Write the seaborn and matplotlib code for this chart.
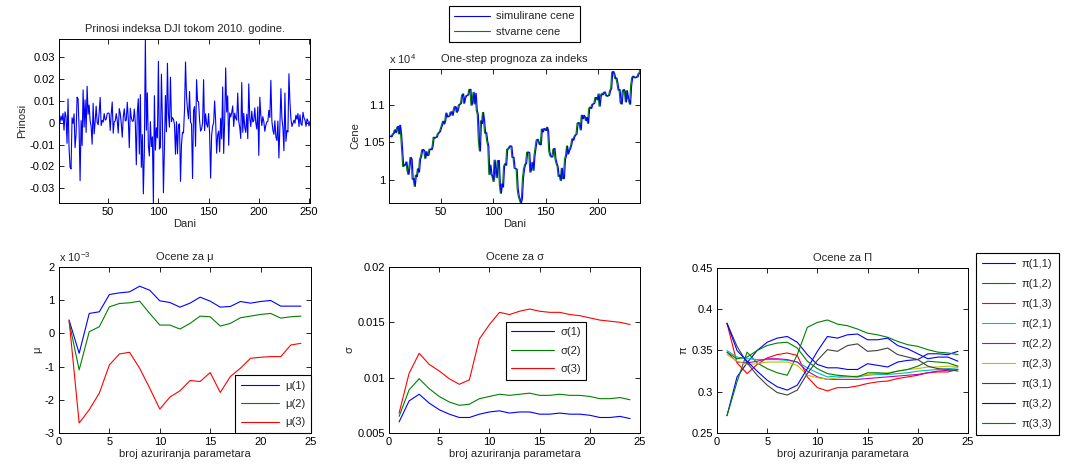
import numpy as np
import matplotlib
matplotlib.use('Agg')
import matplotlib.pyplot as plt
import seaborn as sns
from matplotlib.ticker import FuncFormatter


# DJI daily log returns, 2010
returns = [
    -0.0011, 0.0002, 0.0031, 0.0011, 0.0043, -0.0034, 0.0050, 0.0028, -0.0094, 0.0109,
    -0.0114, -0.0203, -0.0211, 0.0023, -0.0003, 0.0041, -0.0114, -0.0053, 0.0117, 0.0109,
    -0.0026, -0.0265, 0.0010, -0.0104, 0.0150, -0.0020, 0.0105, -0.0044, 0.0167, 0.0039,
    0.0081, 0.0009, -0.0018, -0.0098, 0.0089, -0.0051, 0.0004, 0.0076, 0.0002, -0.0009,
    0.0046, 0.0116, -0.0013, 0.0011, 0.0003, 0.0042, 0.0012, 0.0016, 0.0041, 0.0045,
    0.0042, -0.0035, 0.0041, 0.0095, -0.0048, 0.0005, 0.0008, 0.0042, 0.0011, -0.0047,
    0.0065, 0.0043, -0.0003, -0.0066, 0.0027, 0.0064, 0.0008, 0.0012, 0.0094, 0.0019,
    -0.0114, 0.0066, 0.0023, 0.0007, 0.0008, 0.0063, 0.0001, -0.0192, 0.0048, 0.0110,
    -0.0143, 0.0129, -0.0204, -0.0054, -0.0325, -0.0134, 0.0383, -0.0034, 0.0137, -0.0105,
    -0.0152, 0.0005, -0.0109, -0.0064, -0.0367, 0.0124, -0.0125, -0.0023, -0.0069, 0.0281,
    -0.0120, -0.0112, 0.0222, 0.0006, -0.0320, -0.0117, 0.0125, -0.0041, 0.0272, 0.0038,
    -0.0020, 0.0208, 0.0005, 0.0024, 0.0016, -0.0008, -0.0144, 0.0005, -0.0142, -0.0009,
    -0.0005, -0.0268, -0.0098, -0.0043, -0.0047, 0.0059, 0.0278, 0.0120, 0.0058, 0.0018,
    0.0143, 0.0004, -0.0007, -0.0255, 0.0056, 0.0074, -0.0108, 0.0197, 0.0099, 0.0096,
    0.0012, -0.0038, -0.0029, -0.0001, 0.0197, -0.0036, 0.0041, -0.0005, -0.0020, 0.0042,
    -0.0051, -0.0253, -0.0057, -0.0016, -0.0001, 0.0100, 0.0009, -0.0139, -0.0056, -0.0038,
    -0.0133, 0.0020, -0.0074, 0.0164, -0.0140, 0.0005, 0.0251, 0.0049, 0.0123, -0.0103,
    0.0045, 0.0027, 0.0046, 0.0077, -0.0017, 0.0044, 0.0021, 0.0012, 0.0136, 0.0007,
    -0.0020, -0.0072, 0.0184, -0.0044, 0.0043, -0.0021, -0.0044, 0.0039, -0.0073, 0.0178,
    0.0021, -0.0017, 0.0053, 0.0004, 0.0009, 0.0068, -0.0001, -0.0029, 0.0073, -0.0149,
    0.0117, 0.0035, -0.0013, 0.0028, 0.0005, -0.0039, -0.0011, 0.0004, 0.0006, 0.0057,
    0.0024, 0.0194, 0.0008, -0.0033, -0.0053, 0.0009, -0.0065, -0.0081, 0.0008, -0.0161,
    -0.0014, 0.0156, 0.0020, -0.0022, -0.0128, 0.0136, -0.0085, -0.0036, -0.0042, 0.0224,
    0.0094, 0.0017, -0.0017, -0.0003, 0.0012, -0.0002, 0.0035, 0.0016, 0.0042, -0.0017,
    0.0036, -0.0006, -0.0012, 0.0048, 0.0023, 0.0012, -0.0016, 0.0018, 0.0008, -0.0014,
    0.0007,
]

# actual index closes (stvarne cene)
actual_prices = [
    10584, 10572, 10574, 10607, 10618, 10664, 10627, 10681, 10711, 10610,
    10725, 10603, 10390, 10173, 10197, 10194, 10236, 10120, 10067, 10186,
    10297, 10271, 10002, 10012, 9908, 10059, 10038, 10144, 10099, 10269,
    10309, 10393, 10402, 10383, 10282, 10374, 10321, 10325, 10404, 10406,
    10397, 10444, 10566, 10553, 10564, 10568, 10612, 10625, 10642, 10686,
    10734, 10779, 10742, 10786, 10889, 10836, 10841, 10850, 10896, 10907,
    10857, 10927, 10974, 10970, 10898, 10927, 10997, 11006, 11019, 11123,
    11145, 11019, 11092, 11117, 11125, 11134, 11204, 11205, 10992, 11045,
    11167, 11009, 11152, 10927, 10868, 10520, 10380, 10785, 10748, 10897,
    10783, 10620, 10626, 10511, 10444, 10068, 10193, 10067, 10044, 9974,
    10259, 10137, 10024, 10250, 10255, 9932, 9816, 9940, 9899, 10173,
    10211, 10191, 10405, 10409, 10434, 10451, 10442, 10294, 10298, 10153,
    10144, 10139, 9870, 9774, 9733, 9686, 9744, 10018, 10139, 10198,
    10216, 10363, 10367, 10359, 10098, 10154, 10230, 10121, 10322, 10425,
    10525, 10538, 10498, 10467, 10466, 10674, 10636, 10680, 10675, 10654,
    10699, 10644, 10379, 10320, 10303, 10302, 10406, 10416, 10271, 10214,
    10174, 10040, 10060, 9986, 10151, 10010, 10015, 10269, 10320, 10448,
    10341, 10387, 10415, 10463, 10544, 10526, 10573, 10595, 10608, 10754,
    10761, 10739, 10662, 10860, 10812, 10858, 10835, 10788, 10830, 10751,
    10945, 10968, 10949, 11006, 11010, 11020, 11096, 11095, 11063, 11144,
    10979, 11108, 11147, 11133, 11164, 11169, 11126, 11114, 11118, 11125,
    11189, 11215, 11435, 11444, 11407, 11347, 11357, 11283, 11193, 11202,
    11024, 11008, 11181, 11204, 11179, 11036, 11187, 11092, 11052, 11006,
    11256, 11362, 11382, 11362, 11359, 11372, 11370, 11410, 11429, 11477,
]

# one-step forecasts (simulirane cene)
simulated_prices = [
    10590, 10584, 10572, 10574, 10607, 10618, 10664, 10627, 10681, 10711,
    10610, 10725, 10603, 10390, 10173, 10197, 10194, 10236, 10120, 10067,
    10186, 10297, 10271, 10002, 10012, 9908, 10059, 10038, 10144, 10099,
    10269, 10309, 10393, 10402, 10383, 10282, 10374, 10321, 10325, 10404,
    10406, 10397, 10444, 10566, 10553, 10564, 10568, 10612, 10625, 10642,
    10686, 10734, 10779, 10742, 10786, 10889, 10836, 10841, 10850, 10896,
    10907, 10857, 10927, 10974, 10970, 10898, 10927, 10997, 11006, 11019,
    11123, 11145, 11019, 11092, 11117, 11125, 11134, 11204, 11205, 10992,
    11045, 11167, 11009, 11152, 10927, 10868, 10520, 10380, 10785, 10748,
    10897, 10783, 10620, 10626, 10511, 10444, 10068, 10193, 10067, 10044,
    9974, 10259, 10137, 10024, 10250, 10255, 9932, 9816, 9940, 9899,
    10173, 10211, 10191, 10405, 10409, 10434, 10451, 10442, 10294, 10298,
    10153, 10144, 10139, 9870, 9774, 9733, 9686, 9744, 10018, 10139,
    10198, 10216, 10363, 10367, 10359, 10098, 10154, 10230, 10121, 10322,
    10425, 10525, 10538, 10498, 10467, 10466, 10674, 10636, 10680, 10675,
    10654, 10699, 10644, 10379, 10320, 10303, 10302, 10406, 10416, 10271,
    10214, 10174, 10040, 10060, 9986, 10151, 10010, 10015, 10269, 10320,
    10448, 10341, 10387, 10415, 10463, 10544, 10526, 10573, 10595, 10608,
    10754, 10761, 10739, 10662, 10860, 10812, 10858, 10835, 10788, 10830,
    10751, 10945, 10968, 10949, 11006, 11010, 11020, 11096, 11095, 11063,
    11144, 10979, 11108, 11147, 11133, 11164, 11169, 11126, 11114, 11118,
    11125, 11189, 11215, 11435, 11444, 11407, 11347, 11357, 11283, 11193,
    11202, 11024, 11008, 11181, 11204, 11179, 11036, 11187, 11092, 11052,
    11006, 11256, 11362, 11382, 11362, 11359, 11372, 11370, 11410, 11429,
]

# parameter updates 1..24
updates = list(range(1, 25))

# mu estimates, in units of 1e-3
mu_1 = [0.40, -0.60, 0.60, 0.65, 1.17, 1.22, 1.25, 1.42, 1.30, 0.98, 0.93, 0.79,
        0.91, 1.09, 0.97, 0.79, 0.81, 0.96, 0.91, 0.96, 0.99, 0.82, 0.82, 0.82]
mu_2 = [0.35, -1.10, 0.05, 0.20, 0.80, 0.90, 0.92, 0.97, 0.60, 0.25, 0.25, 0.13,
        0.30, 0.52, 0.50, 0.22, 0.30, 0.47, 0.52, 0.57, 0.60, 0.46, 0.50, 0.52]
mu_3 = [0.40, -2.70, -2.30, -1.80, -0.95, -0.62, -0.57, -1.05, -1.65, -2.28, -1.92, -1.73,
        -1.42, -1.45, -1.18, -1.78, -1.30, -1.05, -0.75, -0.72, -0.70, -0.70, -0.35, -0.30]

# sigma estimates
sigma_1 = [0.0060, 0.0079, 0.0085, 0.0077, 0.0071, 0.0067, 0.0064, 0.0064, 0.0067, 0.0069, 0.0070, 0.0068,
           0.0069, 0.0069, 0.0067, 0.0067, 0.0068, 0.0067, 0.0067, 0.0066, 0.0064, 0.0064, 0.0065, 0.0063]
sigma_2 = [0.0065, 0.0089, 0.0099, 0.0090, 0.0083, 0.0078, 0.0075, 0.0076, 0.0081, 0.0083, 0.0085, 0.0084,
           0.0085, 0.0086, 0.0084, 0.0084, 0.0085, 0.0084, 0.0084, 0.0083, 0.0081, 0.0081, 0.0082, 0.0080]
sigma_3 = [0.0068, 0.0104, 0.0122, 0.0112, 0.0106, 0.0099, 0.0094, 0.0098, 0.0135, 0.0148, 0.0159, 0.0157,
           0.0160, 0.0162, 0.0160, 0.0159, 0.0159, 0.0157, 0.0156, 0.0154, 0.0152, 0.0151, 0.0150, 0.0148]

# transition matrix estimates
pi_11 = [0.271, 0.318, 0.335, 0.350, 0.360, 0.365, 0.367, 0.360, 0.345, 0.333, 0.329, 0.329,
         0.327, 0.327, 0.334, 0.332, 0.330, 0.336, 0.338, 0.339, 0.346, 0.346, 0.345, 0.349]
pi_12 = [0.271, 0.312, 0.348, 0.335, 0.328, 0.323, 0.320, 0.345, 0.378, 0.384, 0.387, 0.382,
         0.380, 0.376, 0.371, 0.369, 0.366, 0.361, 0.357, 0.355, 0.351, 0.348, 0.347, 0.345]
pi_13 = [0.383, 0.335, 0.322, 0.333, 0.341, 0.345, 0.347, 0.344, 0.318, 0.305, 0.301, 0.305,
         0.305, 0.307, 0.310, 0.312, 0.313, 0.316, 0.318, 0.320, 0.323, 0.324, 0.324, 0.327]
pi_21 = [0.350, 0.342, 0.340, 0.339, 0.339, 0.339, 0.338, 0.336, 0.329, 0.323, 0.318, 0.319,
         0.318, 0.318, 0.320, 0.321, 0.321, 0.322, 0.323, 0.325, 0.326, 0.327, 0.328, 0.329]
pi_22 = [0.348, 0.336, 0.335, 0.337, 0.340, 0.340, 0.339, 0.336, 0.325, 0.318, 0.315, 0.315,
         0.315, 0.315, 0.316, 0.317, 0.318, 0.319, 0.320, 0.321, 0.323, 0.325, 0.326, 0.327]
pi_23 = [0.345, 0.337, 0.333, 0.334, 0.336, 0.336, 0.336, 0.332, 0.320, 0.317, 0.315, 0.317,
         0.318, 0.319, 0.321, 0.322, 0.323, 0.325, 0.327, 0.328, 0.330, 0.330, 0.331, 0.331]
pi_31 = [0.383, 0.355, 0.335, 0.320, 0.308, 0.299, 0.296, 0.302, 0.322, 0.338, 0.351, 0.349,
         0.356, 0.358, 0.349, 0.350, 0.353, 0.345, 0.342, 0.339, 0.331, 0.328, 0.327, 0.325]
pi_32 = [0.383, 0.350, 0.337, 0.325, 0.314, 0.306, 0.302, 0.308, 0.328, 0.349, 0.367, 0.365,
         0.369, 0.370, 0.363, 0.363, 0.365, 0.356, 0.352, 0.346, 0.340, 0.342, 0.342, 0.337]
pi_33 = [0.348, 0.340, 0.342, 0.350, 0.356, 0.359, 0.360, 0.353, 0.337, 0.328, 0.322, 0.320,
         0.319, 0.318, 0.323, 0.323, 0.322, 0.325, 0.327, 0.331, 0.337, 0.336, 0.335, 0.331]

pi_labels = ['\u03c0(1,1)', '\u03c0(1,2)', '\u03c0(1,3)', '\u03c0(2,1)', '\u03c0(2,2)',
             '\u03c0(2,3)', '\u03c0(3,1)', '\u03c0(3,2)', '\u03c0(3,3)']

# MATLAB default line colours
ML_COLORS = [(0, 0, 1), (0, 0.5, 0), (1, 0, 0), (0, 0.75, 0.75),
             (0.75, 0, 0.75), (0.75, 0.75, 0), (0.25, 0.25, 0.25)]

sns.set_style('white')
plt.rcParams['font.family'] = ['Liberation Sans', 'DejaVu Sans']
plt.rcParams['font.size'] = 8
plt.rcParams['mathtext.fontset'] = 'custom'
plt.rcParams['mathtext.rm'] = 'Liberation Sans'
plt.rcParams['mathtext.it'] = 'Liberation Sans'

LW = 0.8
gfmt = FuncFormatter(lambda v, pos: '%g' % round(v, 6))


def matlab_axes(ax):
    """Box, inward ticks on all sides, like a MATLAB figure."""
    ax.tick_params(direction='in', top=True, right=True, bottom=True, left=True,
                   length=3.5, width=0.6, labelsize=8, pad=3, colors='black')
    for s in ax.spines.values():
        s.set_visible(True)
        s.set_edgecolor('black')
        s.set_linewidth(0.7)
    ax.grid(False)


def boxed_legend(ax, handlelength=3.2, **kw):
    leg = ax.legend(fontsize=8, frameon=True, fancybox=False, edgecolor='black',
                    framealpha=1, handlelength=handlelength, handletextpad=0.6, **kw)
    leg.get_frame().set_linewidth(0.8)
    return leg


fig = plt.figure(figsize=(10.65, 4.73), dpi=100)
fig.patch.set_facecolor('white')

ax1 = fig.add_axes([0.0554, 0.5708, 0.2357, 0.3467])
ax2 = fig.add_axes([0.3653, 0.5708, 0.2357, 0.2833])
ax3 = fig.add_axes([0.0554, 0.0846, 0.2366, 0.3510])
ax4 = fig.add_axes([0.3653, 0.0846, 0.2357, 0.3510])
ax5 = fig.add_axes([0.6732, 0.0846, 0.2357, 0.3488])

# returns
ret_days = np.arange(1, len(returns) + 1)
sns.lineplot(x=ret_days, y=returns, ax=ax1, color=(0, 0, 1), linewidth=LW, estimator=None, sort=False)
ax1.set_xlim(1, len(returns))
ax1.set_ylim(min(returns), max(returns))
ax1.set_xticks([50, 100, 150, 200, 250])
ax1.set_yticks([-0.03, -0.02, -0.01, 0, 0.01, 0.02, 0.03])
ax1.yaxis.set_major_formatter(gfmt)
ax1.set_title('Prinosi indeksa DJI tokom 2010. godine.', fontsize=8, pad=5)
ax1.set_xlabel('Dani', labelpad=1)
ax1.set_ylabel('Prinosi', labelpad=2)
matlab_axes(ax1)

# one-step forecast
price_days = np.arange(1, len(actual_prices) + 1)
sns.lineplot(x=price_days, y=actual_prices, ax=ax2, color=(0, 0.5, 0), linewidth=LW,
             estimator=None, sort=False, label='stvarne cene')
sns.lineplot(x=price_days, y=simulated_prices, ax=ax2, color=(0, 0, 1), linewidth=LW,
             estimator=None, sort=False, label='simulirane cene')
ax2.set_xlim(1, len(actual_prices))
ax2.set_ylim(min(actual_prices + simulated_prices), max(actual_prices + simulated_prices))
ax2.set_xticks([50, 100, 150, 200])
ax2.set_yticks([10000, 10500, 11000])
ax2.yaxis.set_major_formatter(FuncFormatter(lambda v, pos: '%g' % (v / 1e4)))
ax2.text(0.0, 1.02, 'x 10$^{4}$', transform=ax2.transAxes, ha='left', va='bottom', fontsize=8)
ax2.set_title('One-step prognoza za indeks', fontsize=8, pad=5)
ax2.set_xlabel('Dani', labelpad=1)
ax2.set_ylabel('Cene', labelpad=2)
h, l = ax2.get_legend_handles_labels()
boxed_legend(ax2, handles=[h[1], h[0]], labels=[l[1], l[0]], loc='lower center',
             bbox_to_anchor=(0.5, 1.16), labelspacing=0.5, borderpad=0.45)
matlab_axes(ax2)

# mu
for i, (series, name) in enumerate([(mu_1, '\u03bc(1)'), (mu_2, '\u03bc(2)'), (mu_3, '\u03bc(3)')]):
    sns.lineplot(x=updates, y=series, ax=ax3, color=ML_COLORS[i], linewidth=LW,
                 estimator=None, sort=False, label=name)
ax3.set_xlim(0, 25)
ax3.set_ylim(-3, 2)
ax3.set_xticks([0, 5, 10, 15, 20, 25])
ax3.set_yticks([-3, -2, -1, 0, 1, 2])
ax3.yaxis.set_major_formatter(gfmt)
ax3.text(0.0, 1.02, 'x 10$^{-3}$', transform=ax3.transAxes, ha='left', va='bottom', fontsize=8)
ax3.set_title('Ocene za \u03bc', fontsize=8, pad=5)
ax3.set_xlabel('broj azuriranja parametara', labelpad=1)
ax3.set_ylabel('\u03bc', labelpad=2)
boxed_legend(ax3, handlelength=3.4, loc='lower right', borderaxespad=0,
             labelspacing=0.75, borderpad=0.5)
matlab_axes(ax3)

# sigma
for i, (series, name) in enumerate([(sigma_1, '\u03c3(1)'), (sigma_2, '\u03c3(2)'), (sigma_3, '\u03c3(3)')]):
    sns.lineplot(x=updates, y=series, ax=ax4, color=ML_COLORS[i], linewidth=LW,
                 estimator=None, sort=False, label=name)
ax4.set_xlim(0, 25)
ax4.set_ylim(0.005, 0.02)
ax4.set_xticks([0, 5, 10, 15, 20, 25])
ax4.set_yticks([0.005, 0.01, 0.015, 0.02])
ax4.yaxis.set_major_formatter(gfmt)
ax4.set_title('Ocene za \u03c3', fontsize=8, pad=5)
ax4.set_xlabel('broj azuriranja parametara', labelpad=1)
ax4.set_ylabel('\u03c3', labelpad=2)
boxed_legend(ax4, handlelength=3.8, loc='upper left', bbox_to_anchor=(0.465, 0.67),
             borderaxespad=0, labelspacing=0.75, borderpad=0.5)
matlab_axes(ax4)

# transition probabilities
pi_series = [pi_11, pi_12, pi_13, pi_21, pi_22, pi_23, pi_31, pi_32, pi_33]
for i, (series, name) in enumerate(zip(pi_series, pi_labels)):
    sns.lineplot(x=updates, y=series, ax=ax5, color=ML_COLORS[i % 7], linewidth=LW,
                 estimator=None, sort=False, label=name)
ax5.set_xlim(0, 25)
ax5.set_ylim(0.25, 0.45)
ax5.set_xticks([0, 5, 10, 15, 20, 25])
ax5.set_yticks([0.25, 0.3, 0.35, 0.4, 0.45])
ax5.yaxis.set_major_formatter(gfmt)
ax5.set_title('Ocene za \u03a0', fontsize=8, pad=5)
ax5.set_xlabel('broj azuriranja parametara', labelpad=1)
ax5.set_ylabel('\u03c0', labelpad=2)
boxed_legend(ax5, handlelength=3.0, loc='upper left', bbox_to_anchor=(1.032, 1.09),
             borderaxespad=0, labelspacing=0.9, borderpad=0.55)
matlab_axes(ax5)

fig.savefig('out.png', dpi=100, facecolor='white')
